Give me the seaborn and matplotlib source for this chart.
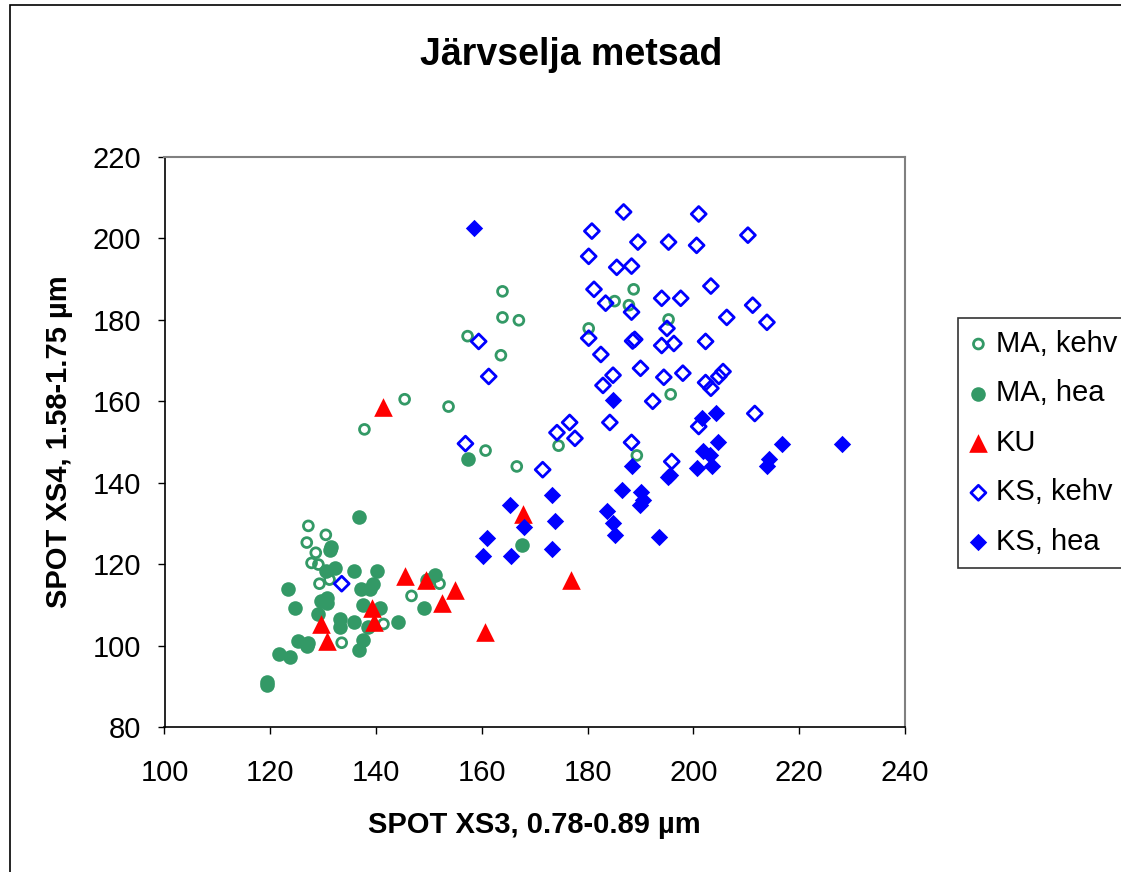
import matplotlib
matplotlib.use("Agg")
import matplotlib.pyplot as plt
from matplotlib.patches import Rectangle
import seaborn as sns

# MA, kehv (avatud rohelised ringid)
ma_kehv_x = [145.4, 153.7, 137.8, 160.7, 127.2, 130.5, 126.9, 128.6, 127.8, 129.1,
             131.2, 129.3, 152.0, 146.7, 141.4, 133.5, 163.9, 163.9, 167.0, 157.3,
             163.6, 166.6, 174.5, 189.3, 185.1, 188.7, 187.8, 180.2, 195.3, 195.7]
ma_kehv_y = [160.5, 158.7, 153.1, 147.9, 129.4, 127.2, 125.3, 122.8, 120.3, 119.9,
             116.2, 115.2, 115.2, 112.2, 105.3, 100.7, 187.0, 180.6, 179.9, 176.0,
             171.3, 144.0, 149.1, 146.7, 184.6, 187.5, 183.6, 177.9, 180.1, 161.7]

# MA, hea (täidetud rohelised ringid)
ma_hea_x = [157.3, 136.7, 131.4, 131.2, 132.3, 130.5, 135.8, 140.1, 123.3, 137.1,
            139.5, 138.8, 151.1, 149.6, 124.6, 130.8, 129.5, 130.8, 137.6, 140.7,
            149.0, 129.1, 133.1, 133.1, 135.8, 138.4, 144.1, 125.2, 127.1, 126.9,
            137.5, 136.7, 121.6, 123.8, 119.3, 119.3, 167.5]
ma_hea_y = [145.9, 131.7, 124.3, 123.5, 119.1, 118.4, 118.4, 118.4, 113.9, 113.9,
            115.2, 113.9, 117.4, 116.2, 109.3, 111.7, 111.0, 110.5, 110.0, 109.3,
            109.3, 107.8, 106.6, 104.6, 105.8, 104.6, 105.8, 101.2, 100.7, 99.9,
            101.4, 98.9, 98.0, 97.2, 91.1, 90.3, 124.8]

# KU (punased kolmnurgad)
ku_x = [141.4, 145.4, 149.4, 155.0, 152.4, 139.2, 139.7, 129.5, 130.8, 160.5, 167.7, 176.8]
ku_y = [158.7, 117.1, 116.1, 113.7, 110.5, 109.3, 105.8, 105.3, 101.2, 103.3, 132.2, 116.2]

# KS, kehv (avatud sinised rombid)
ks_kehv_x = [156.9, 133.5, 186.8, 180.8, 189.5, 180.2, 185.5, 188.3, 181.2, 183.4,
             188.3, 159.4, 180.2, 188.9, 182.5, 161.3, 184.8, 182.9, 190.0, 192.3,
             184.2, 176.6, 174.2, 177.6, 188.3, 171.5, 201.0, 210.3, 195.3, 200.6,
             203.3, 194.0, 197.6, 211.2, 206.3, 213.9, 195.0, 188.5, 194.0, 196.3,
             202.3, 194.4, 198.0, 202.3, 203.3, 204.8, 205.6, 211.6, 195.9, 201.0]
ks_kehv_y = [149.6, 115.2, 206.5, 201.8, 199.1, 195.6, 192.9, 193.2, 187.5, 184.1,
             181.9, 174.7, 175.5, 175.2, 171.5, 166.1, 166.4, 163.9, 168.1, 160.0,
             154.8, 154.8, 152.3, 150.9, 149.9, 143.2, 206.0, 200.8, 199.1, 198.3,
             188.3, 185.3, 185.3, 183.6, 180.6, 179.4, 177.9, 174.8, 173.7, 174.2,
             174.7, 165.9, 166.9, 164.6, 163.2, 166.1, 167.3, 157.0, 145.2, 153.8]

# KS, hea (täidetud sinised rombid)
ks_hea_x = [158.6, 184.8, 201.6, 204.2, 204.6, 201.8, 203.1, 203.5, 200.6, 216.7,
            214.3, 213.9, 188.3, 195.2, 195.6, 186.5, 190.0, 190.4, 189.9, 183.6,
            184.8, 185.1, 193.5, 228.0, 165.3, 173.2, 167.9, 173.8, 160.9, 160.3,
            165.6, 173.2]
ks_hea_y = [202.5, 160.4, 156.0, 157.2, 149.9, 147.9, 146.9, 144.2, 143.5, 149.6,
            145.9, 144.0, 144.0, 141.5, 141.9, 138.1, 137.8, 135.8, 134.6, 133.1,
            130.2, 127.2, 126.7, 149.6, 134.6, 137.1, 129.2, 130.7, 126.5, 122.1,
            122.1, 123.8]

green = "#339966"
red = "#FF0000"
blue = "#0000FF"

sns.set_style("ticks")
plt.rcParams["font.family"] = ["Liberation Sans", "DejaVu Sans"]
plt.rcParams["text.color"] = "black"
plt.rcParams["axes.labelcolor"] = "black"
plt.rcParams["xtick.color"] = "black"
plt.rcParams["ytick.color"] = "black"

fig = plt.figure(figsize=(11.21, 8.72), dpi=100)
ax = fig.add_axes([164.5 / 1121, 1 - 727 / 872, (905 - 164.5) / 1121, (727 - 157) / 872])

# kõik seeriad
sns.scatterplot(x=ma_kehv_x, y=ma_kehv_y, marker="o", s=50, color=green, linewidth=2, ax=ax, label="MA, kehv")
ax.collections[-1].set_facecolor("none")
ax.collections[-1].set_edgecolor(green)
sns.scatterplot(x=ma_hea_x, y=ma_hea_y, marker="o", s=110, color=green, linewidth=0, ax=ax, label="MA, hea")
sns.scatterplot(x=ku_x, y=ku_y, marker="^", s=180, color=red, linewidth=0, ax=ax, label="KU")
sns.scatterplot(x=ks_kehv_x, y=ks_kehv_y, marker="D", s=58, color=blue, linewidth=2, ax=ax, label="KS, kehv")
ax.collections[-1].set_facecolor("none")
ax.collections[-1].set_edgecolor(blue)
sns.scatterplot(x=ks_hea_x, y=ks_hea_y, marker="D", s=78, color=blue, linewidth=0, ax=ax, label="KS, hea")

ax.set_xlim(100, 240)
ax.set_ylim(80, 220)
ax.set_xticks(range(100, 241, 20))
ax.set_yticks(range(80, 221, 20))
ax.tick_params(axis="both", direction="out", length=5, width=1, color="black", labelsize=21)
ax.tick_params(axis="x", pad=18)
ax.tick_params(axis="y", pad=12)
for side in ["top", "right"]:
    ax.spines[side].set_visible(True)
    ax.spines[side].set_color("#808080")
    ax.spines[side].set_linewidth(1.5)
for side in ["left", "bottom"]:
    ax.spines[side].set_color("black")
    ax.spines[side].set_linewidth(1.2)

ax.set_xlabel("SPOT XS3, 0.78-0.89 µm", fontsize=21, fontweight="bold", labelpad=17)
ax.set_ylabel("SPOT XS4, 1.58-1.75 µm", fontsize=21, fontweight="bold", labelpad=14)
fig.text(571 / 1121, 1 - 55 / 872, "Järvselja metsad", fontsize=27, fontweight="bold",
         ha="center", va="center")

ax.get_legend().remove()
handles, labels = ax.get_legend_handles_labels()
leg = fig.legend(handles, labels, loc="upper left", bbox_to_anchor=(958 / 1121, 1 - 318 / 872),
                 borderaxespad=0, fontsize=21, frameon=True, fancybox=False, edgecolor="black",
                 handlelength=0.6, handletextpad=0.3, borderpad=0.4, labelspacing=0.74,
                 markerscale=1.0)
leg.get_frame().set_linewidth(1.2)

# diagrammi välisraam
fig.patches.append(Rectangle((10 / 1121, -0.1), 1.2, 1 - 5 / 872 + 0.1, transform=fig.transFigure,
                             fill=False, edgecolor="black", linewidth=1.2))

fig.savefig("out.png", dpi=100)
